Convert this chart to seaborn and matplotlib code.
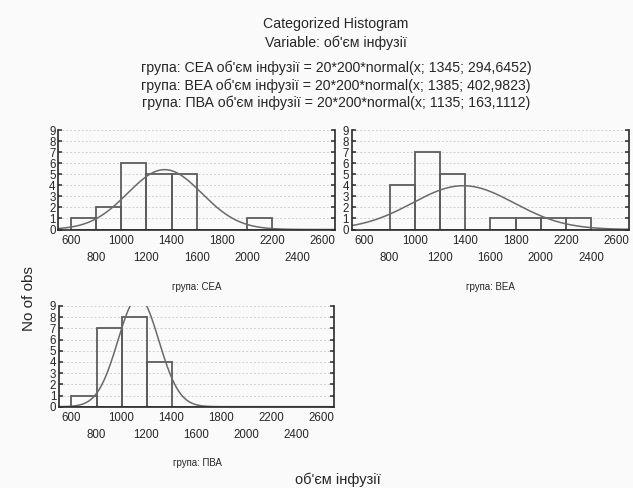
import numpy as np
import pandas as pd
import matplotlib
matplotlib.use("Agg")
import matplotlib.pyplot as plt
import seaborn as sns

# ---- data ----
bin_edges = [600, 800, 1000, 1200, 1400, 1600, 1800, 2000, 2200, 2400]
groups = ["CEA", "BEA", "ПВА"]
cea_counts = [1, 2, 6, 5, 5, 0, 0, 1, 0]
bea_counts = [0, 4, 7, 5, 0, 1, 1, 1, 1]
pva_counts = [1, 7, 8, 4, 0, 0, 0, 0, 0]
means = [1345, 1385, 1135]
sds = [294.6452, 402.9823, 163.1112]
sd_labels = ["294,6452", "402,9823", "163,1112"]
n_obs = 20
bin_width = 200
major_xticks = [600, 1000, 1400, 1800, 2200, 2600]
minor_xticks = [800, 1200, 1600, 2000, 2400]
yticks = list(range(0, 10))

sns.set_style("white")
plt.rcParams["font.family"] = ["Liberation Sans", "DejaVu Sans"]

BG = "#fafafa"
fig = plt.figure(figsize=(6.33, 4.88), dpi=100, facecolor=BG)

positions = [
    [0.0924, 0.5297, 0.4368, 0.2039],
    [0.5556, 0.5297, 0.4381, 0.2039],
    [0.0932, 0.1666, 0.4345, 0.2064],
]
label_pos = [(197 / 633, 1 - 287 / 488), (490 / 633, 1 - 287 / 488), (197 / 633, 1 - 463 / 488)]
counts_all = [cea_counts, bea_counts, pva_counts]

centers = [(a + b) / 2 for a, b in zip(bin_edges[:-1], bin_edges[1:])]
edge_col = "#5c5c5c"
spine_col = "#2a2a2a"
TICK_FS = 8.3

for i, g in enumerate(groups):
    ax = fig.add_axes(positions[i])
    ax.set_facecolor(BG)
    df = pd.DataFrame({"x": centers, "w": counts_all[i]})
    sns.histplot(data=df, x="x", weights="w", bins=bin_edges, fill=False,
                 element="bars", color=edge_col, linewidth=1.3, ax=ax)
    xs = np.linspace(500, 2700, 500)
    ys = n_obs * bin_width * np.exp(-0.5 * ((xs - means[i]) / sds[i]) ** 2) / (sds[i] * np.sqrt(2 * np.pi))
    sns.lineplot(x=xs, y=ys, color="#6a6a6a", linewidth=1.1, ax=ax)
    ax.set_xlim(500, 2700)
    ax.set_ylim(0, 9)
    ax.set_yticks(yticks)
    ax.set_yticklabels([str(t) for t in yticks], fontsize=TICK_FS)
    ax.set_xticks(major_xticks)
    ax.set_xticklabels([str(t) for t in major_xticks], fontsize=TICK_FS)
    ax.set_xticks(minor_xticks, minor=True)
    ax.set_xticklabels([str(t) for t in minor_xticks], minor=True, fontsize=TICK_FS)
    ax.tick_params(axis="x", which="major", direction="in", length=3, width=1.1, pad=4, color=spine_col)
    ax.tick_params(axis="x", which="minor", direction="in", length=3, width=1.1, pad=16, color=spine_col)
    ax.tick_params(axis="y", direction="in", length=3, width=1.1, pad=2, left=True, right=True, color=spine_col)
    ax.grid(axis="y", linestyle=(0, (2, 2)), color="#cfcfcf", linewidth=0.7)
    ax.set_axisbelow(True)
    for s in ["left", "right", "bottom"]:
        ax.spines[s].set_color(spine_col)
        ax.spines[s].set_linewidth(1.2)
    ax.spines["top"].set_visible(False)
    ax.set_xlabel("")
    ax.set_ylabel("")
    fig.text(label_pos[i][0], label_pos[i][1], f"група: {g}", ha="center", va="center", fontsize=7)

cx = 336 / 633
TITLE_FS = 10.2
fig.text(cx, 1 - 24 / 488, "Categorized Histogram", ha="center", va="center", fontsize=TITLE_FS)
fig.text(cx, 1 - 43 / 488, "Variable: об'єм інфузії", ha="center", va="center", fontsize=TITLE_FS)
for i, g in enumerate(groups):
    fig.text(cx, 1 - (68 + 17.5 * i) / 488,
             f"група: {g} об'єм інфузії = {n_obs}*{bin_width}*normal(x; {means[i]}; {sd_labels[i]})",
             ha="center", va="center", fontsize=TITLE_FS)

fig.text(29 / 633, 1 - 299 / 488, "No of obs", rotation=90, ha="center", va="center", fontsize=11)
fig.text(338 / 633, 1 / 488, "об'єм інфузії", ha="center", va="bottom", fontsize=10.5)

fig.savefig("out.png", dpi=100, facecolor=BG)
